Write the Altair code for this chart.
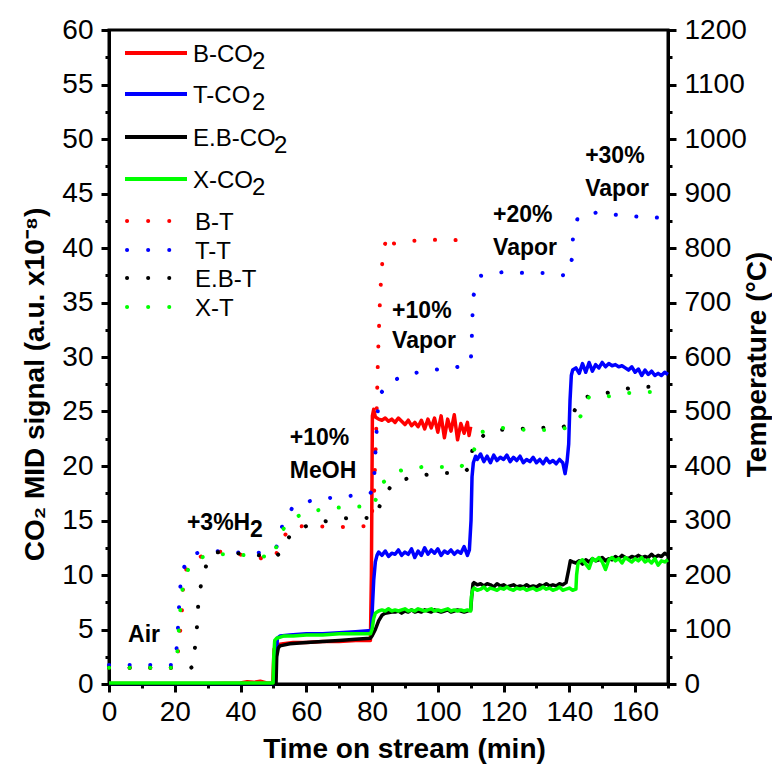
import altair as alt
import pandas as pd

FONT = "Liberation Sans"

# ---------------- data ----------------
# CO2 MID signal (a.u. x1e-8) vs time (min)
b_co2_t = [0, 10, 20, 30, 40, 42, 44, 46, 48, 49.8, 50.2, 51, 53, 56, 60, 65, 70, 75, 79.5, 79.8, 80.1, 80.5, 81] \
    + list(range(82, 110)) + [109.5, 110]
b_co2_v = [0.05, 0.05, 0.05, 0.05, 0.1, 0.2, 0.15, 0.25, 0.1, 0.1, 3.2, 3.6, 3.7, 3.8, 3.8, 3.9, 3.9, 4.0, 4.0, 10.0, 24.6, 25.2, 24.5,
           24.3, 24.2, 24.4, 24.1, 24.3, 24.0, 24.4, 24.1, 23.8, 24.2, 23.7, 24.0, 23.6, 24.2, 23.4, 24.3, 23.5, 24.4,
           23.1, 24.6, 22.6, 24.3, 23.2, 24.7, 22.4, 23.9, 23.0, 24.0,
           22.8, 23.6]

t_co2_t = [0, 20, 40, 50.5, 50.8, 51.2, 52, 55, 60, 65, 70, 75, 79.8, 80.1, 80.5, 81, 81.5, 82] \
    + list(range(83, 110)) + [109.6, 110.1, 110.4, 110.8, 111.5] \
    + list(range(112, 139)) + [138.7, 139.3, 139.8, 140.2, 140.6, 141] \
    + list(range(142, 171))
t_co2_v = [0, 0, 0, 0, 2.0, 4.2, 4.4, 4.5, 4.6, 4.6, 4.7, 4.8, 4.9, 7.0, 9.5, 11.2, 11.8, 12.1,
           11.8, 12.2, 11.7, 12.0, 11.9, 12.3, 11.8, 12.1, 11.9, 12.4, 11.6, 12.2, 11.8, 12.5, 11.9, 12.3, 12.0, 12.4,
           11.8, 12.2, 12.0, 12.3, 11.9, 12.2, 12.0, 12.6, 11.8,
           12.3, 15.0, 19.0, 20.3, 20.9,
           20.6, 21.1, 20.4, 20.9, 20.3, 21.0, 20.5, 20.8, 20.6, 21.0, 20.4, 20.8, 20.5, 20.9, 20.3, 20.6, 20.4, 20.8,
           20.3, 20.6, 20.2, 20.7, 20.3, 20.5, 20.2, 20.6, 20.3,
           19.3, 20.4, 22.0, 26.0, 28.3, 28.8,
           29.0, 28.5, 29.4, 28.6, 29.5, 28.7, 29.3, 29.0, 29.5, 29.1, 29.4, 29.2, 29.3, 29.1, 29.2, 29.0, 28.8, 29.1,
           28.6, 28.9, 28.3, 28.8, 28.4, 28.7, 28.3, 28.5, 28.3, 28.6, 28.4]

eb_co2_t = [0, 20, 40, 50.8, 51, 51.5, 52, 55, 60, 65, 70, 75, 79.5, 80, 81, 82, 83, 84, 86] \
    + list(range(87, 111)) + [110.3, 110.7] + list(range(111, 140)) + [139.8, 140.3] + list(range(141, 171))
eb_co2_v = [0, 0, 0, 0, 2.5, 3.3, 3.5, 3.7, 3.8, 3.9, 4.0, 4.1, 4.2, 4.4, 5.0, 5.8, 6.3, 6.5, 6.6,
            6.6, 6.7, 6.5, 6.7, 6.6, 6.8, 6.6, 6.7, 6.6, 6.8, 6.7, 6.6, 6.8, 6.7, 6.6, 6.7, 6.8, 6.6, 6.7, 6.8,
            6.7, 6.6, 6.7, 6.8,
            8.0, 9.2,
            9.3, 9.1, 9.2, 9.0, 9.2, 9.1, 8.9, 9.2, 9.0, 9.1, 8.9, 9.0, 9.1, 8.9, 9.0, 8.9, 9.1, 8.9, 9.0, 8.9,
            9.1, 9.0, 9.2, 9.0, 9.1, 9.0, 9.2, 9.1, 9.3,
            10.5, 11.3,
            11.2, 11.1, 11.3, 11.0, 11.4, 11.2, 11.5, 11.3, 11.4, 11.6, 11.3, 11.5, 11.4, 11.7, 11.5, 11.8, 11.6, 11.5,
            11.7, 11.6, 11.8, 11.6, 11.7, 11.6, 11.9, 11.6, 11.8, 11.7, 12.0, 11.8]

x_co2_t = [0, 20, 40, 49.9, 50.1, 50.4, 51, 53, 56, 60, 65, 70, 75, 79.5, 80, 80.5, 81, 82] \
    + list(range(83, 111)) + [110.2, 110.6] + list(range(111, 143)) + [142.2, 142.6] + list(range(143, 171))
x_co2_v = [0.1, 0.1, 0.1, 0.1, 2.5, 4.0, 4.2, 4.4, 4.4, 4.5, 4.5, 4.6, 4.6, 4.6, 5.0, 6.0, 6.5, 6.7,
           6.8, 6.7, 6.9, 6.7, 6.8, 6.7, 6.8, 6.9, 6.7, 6.8, 6.7, 6.9, 6.8, 6.7, 6.8, 6.9, 6.7, 6.8, 6.7, 6.8,
           6.9, 6.7, 6.8, 6.7, 6.8, 6.7, 6.8, 6.7,
           8.0, 8.6,
           8.8, 8.6, 8.7, 8.9, 8.6, 8.8, 8.7, 8.6, 8.8, 8.7, 8.9, 8.7, 8.6, 8.8, 8.7, 8.8, 8.6, 8.7, 8.8, 8.6,
           8.7, 8.9, 8.7, 8.8, 8.6, 8.7, 8.9, 8.6, 8.7, 8.8, 8.6, 8.7,
           10.0, 11.0,
           11.2, 11.4, 11.0, 10.6, 11.5, 11.3, 11.6, 11.2, 10.5, 11.4, 11.6, 11.3, 11.5, 11.1, 11.6, 11.4, 11.2, 11.5,
           11.3, 11.6, 11.2, 11.4, 11.1, 11.5, 10.9, 11.3, 11.2, 11.4]

# Temperature (degC) vs time (min)
b_t_t = [0, 20, 21, 21.7, 22.3, 22.5, 23, 24, 27, 30, 32, 37, 44, 49.5, 50.5, 52, 55, 60, 70, 79,
         80.5, 81.2, 81.8, 82.5, 83.3, 84.6, 86.4, 92, 99, 104, 110]
b_t_v = [30, 30, 60, 100, 145, 175, 200, 220, 232, 238, 244, 240, 234, 226, 232, 257, 288, 290, 288, 290,
         330, 450, 600, 720, 790, 824, 808, 813, 815, 814, 816]

t_t_t = [0, 20, 20.8, 21.1, 21.5, 22, 24.7, 28, 32, 37, 42, 49, 50.5, 51.6, 53, 56.2, 63, 70, 76.3, 79.5,
         80.5, 81.2, 82, 85.2, 91.4, 98, 105, 110, 110.3, 110.5, 110.8, 113, 120, 127, 134, 139.3,
         140.8, 141.1, 142.6, 149, 155, 162, 170]
t_t_v = [35, 35, 79, 121, 161, 204, 237, 242, 244, 242, 240, 242, 245, 262, 299, 327, 339, 343, 347, 350,
         360, 444, 528, 554, 569, 576, 580, 589, 627, 670, 712, 749, 756, 754, 754, 749,
         780, 820, 857, 866, 860, 857, 855]

eb_t_t = [0, 25, 25.6, 26.9, 27.2, 28.4, 30.2, 32, 38, 44, 50, 52, 55.3, 61, 67.8, 74.5, 80.5, 83.4, 86.4, 93.4,
          100, 107, 109.5, 111, 117, 124.6, 131, 137.7, 139.5, 140.8, 143.5, 150, 156, 162, 170]
eb_t_v = [30, 30, 33, 114, 156, 196, 229, 242, 240, 238, 231, 240, 275, 293, 301, 306, 304, 340, 370, 381,
          387, 387, 395, 446, 466, 468, 470, 471, 475, 492, 525, 532, 541, 545, 546]

x_t_t = [0, 20, 20.7, 21.3, 21.8, 22.6, 24.7, 28, 31.4, 37.8, 44.3, 50.4, 51.3, 55.3, 60.8, 67.5, 74.5, 80.5, 82.7, 88,
         95, 101, 107, 110.8, 113, 120, 127, 133, 139.8, 143.5, 146, 152, 158, 165, 170]
x_t_v = [30, 30, 50, 104, 145, 187, 220, 232, 238, 238, 235, 233, 270, 303, 316, 323, 325, 327, 367, 391,
         398, 398, 398, 426, 462, 470, 466, 466, 470, 492, 527, 528, 534, 536, 538]

co2_names = ["B-CO", "T-CO", "E.B-CO", "X-CO"]
temp_names = ["B-T", "T-T", "E.B-T", "X-T"]
colors = ["#ff0000", "#0000ff", "#000000", "#00ff00"]

# annotations (text, time, CO2-scale value at baseline)
ann_text = ["Air", "+3%H", "2", "+10%", "MeOH", "+10%", "Vapor", "+20%", "Vapor", "+30%", "Vapor"]
ann_t = [5.8, 23.7, 42.9, 55.0, 55.0, 86.1, 86.1, 116.8, 116.8, 144.8, 144.8]
ann_v = [3.85, 14.1, 13.5, 21.9, 18.9, 33.6, 30.8, 42.4, 39.4, 47.8, 44.8]

# ---------------- chart ----------------
W, H = 559, 654

x_axis = alt.Axis(
    values=list(range(0, 171, 10)),
    labelExpr="datum.value % 20 === 0 ? datum.label : ''",
    tickSize={"condition": {"test": "datum.value % 20 === 0", "value": 8}, "value": 4},
    title="Time on stream (min)",
    titleX=295, titleY=73, titleBaseline="alphabetic", titleAlign="center",
    labelPadding=6,
)
left_axis = alt.Axis(
    values=[i * 2.5 for i in range(25)],
    labelExpr="datum.value % 5 === 0 ? datum.label : ''",
    tickSize={"condition": {"test": "datum.value % 5 === 0", "value": 8}, "value": 4},
    title="CO\u2082 MID signal (a.u. x10\u207b\u2078)",
    titleAngle=270, titleX=-74, titleY=354, titleBaseline="middle", titleAlign="center",
    labelPadding=8,
)
right_axis = alt.Axis(
    orient="right",
    values=list(range(0, 1201, 50)),
    format="d",
    labelExpr="datum.value % 100 === 0 ? datum.label : ''",
    tickSize={"condition": {"test": "datum.value % 100 === 0", "value": 8}, "value": 4},
    title="Temperature (\u00b0C)",
    titleAngle=270, titleX=89, titleY=334, titleBaseline="middle", titleAlign="center",
    labelPadding=8,
)

x_enc = alt.X("t:Q", scale=alt.Scale(domain=[0, 170], nice=False, zero=False), axis=x_axis)
y_left = alt.Y("v:Q", scale=alt.Scale(domain=[0, 60], nice=False), axis=left_axis)
y_right = alt.Y("v:Q", scale=alt.Scale(domain=[0, 1200], nice=False), axis=right_axis)

co2_series = [(b_co2_t, b_co2_v), (t_co2_t, t_co2_v), (eb_co2_t, eb_co2_v), (x_co2_t, x_co2_v)]
temp_series = [(b_t_t, b_t_v), (t_t_t, t_t_v), (eb_t_t, eb_t_v), (x_t_t, x_t_v)]

left_layers = []
for (tt, vv), col in zip(co2_series, colors):
    df = pd.DataFrame({"t": tt, "v": vv})
    left_layers.append(
        alt.Chart(df).mark_line(color=col, strokeWidth=3.5, strokeJoin="round").encode(x=x_enc, y=y_left)
    )

ann_df = pd.DataFrame({"t": ann_t, "v": ann_v, "label": ann_text})
left_layers.append(
    alt.Chart(ann_df).mark_text(align="left", baseline="alphabetic", font=FONT, fontSize=23,
                                fontWeight="bold", color="black")
    .encode(x=x_enc, y=y_left, text="label:N")
)

# legend (drawn inside the plot, top-left)
co2_rows = [23, 64, 107, 149]
temp_rows = [191, 220, 248, 277]
sub_x = [143, 143, 165, 143]
for name, col, ry, sx in zip(co2_names, colors, co2_rows, sub_x):
    left_layers.append(alt.Chart().mark_rule(color=col, strokeWidth=4).encode(
        x=alt.value(16), x2=alt.value(78), y=alt.value(ry)))
    left_layers.append(alt.Chart().mark_text(align="left", baseline="alphabetic", font=FONT, fontSize=24,
                                             color="black").encode(
        x=alt.value(84), y=alt.value(ry + 8.5), text=alt.value(name)))
    left_layers.append(alt.Chart().mark_text(align="left", baseline="alphabetic", font=FONT, fontSize=24,
                                             color="black").encode(
        x=alt.value(sx), y=alt.value(ry + 15.5), text=alt.value("2")))
for name, col, ry in zip(temp_names, colors, temp_rows):
    left_layers.append(alt.Chart().mark_rule(color=col, strokeWidth=4, strokeCap="round",
                                             strokeDash=[0.1, 21]).encode(
        x=alt.value(18), x2=alt.value(61), y=alt.value(ry)))
    left_layers.append(alt.Chart().mark_text(align="left", baseline="alphabetic", font=FONT, fontSize=24,
                                             color="black").encode(
        x=alt.value(86), y=alt.value(ry + 8.5), text=alt.value(name)))

right_layers = []
for (tt, vv), col in zip(temp_series, colors):
    df = pd.DataFrame({"t": tt, "v": vv})
    right_layers.append(
        alt.Chart(df).mark_line(color=col, strokeWidth=4, strokeCap="round", strokeDash=[0.1, 20.5])
        .encode(x=x_enc, y=y_right)
    )

left = alt.layer(*left_layers)
right = alt.layer(*right_layers)

chart = (
    alt.layer(left, right)
    .resolve_scale(y="independent")
    .properties(width=W, height=H, autosize=alt.AutoSizeParams(type="none"),
                padding={"left": 101, "top": 22, "right": 104, "bottom": 80},
                background="white")
    .configure_view(stroke="black", strokeWidth=3)
    .configure_axis(
        grid=False, domainColor="black", domainWidth=3, tickColor="black", tickWidth=3,
        labelFont=FONT, labelFontSize=28, labelColor="black", labelFlush=False, labelOverlap=False,
        titleFont=FONT, titleFontSize=28, titleFontWeight="bold", titleColor="black",
    )
)

chart.save("out.html", embed_options={"renderer": "svg", "actions": False})
